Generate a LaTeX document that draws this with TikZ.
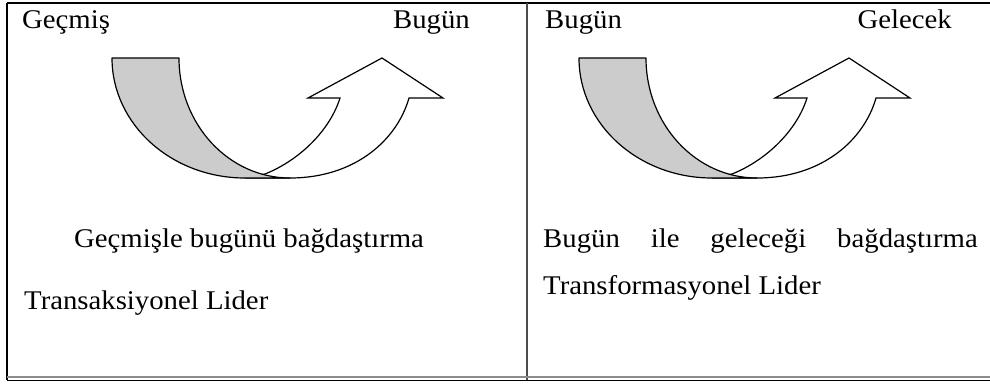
\documentclass[tikz,border=0pt]{standalone}
\usepackage{fontspec}
\setmainfont{Liberation Serif}
\newcommand\sxtext[1]{\scalebox{1.065}[1]{#1}}
\newcommand\drawUturn{%
  \draw[arrowshape] (245,178) -- (290,178) .. controls (355,178) and (397,140) .. (409,98)
     -- (443,98) -- (382,58) -- (308,98) -- (340,98)
     .. controls (330,130) and (300,160) .. (265,174) -- cycle;
  \draw[band] (112,58) -- (179,58) .. controls (179,124.3) and (228.7,178) .. (290,178)
     -- (245,178) .. controls (171.5,178) and (112,124.3) .. (112,58) -- cycle;
}
\begin{document}
\begin{tikzpicture}[x=1pt,y=-1pt,
  txt/.style={inner sep=0pt, anchor=base west, font=\fontsize{27}{32}\selectfont},
  band/.style={draw=black, line width=1.2pt, fill=black!20, line join=round},
  arrowshape/.style={draw=black, line width=1.2pt, fill=white, line join=miter},
  rule/.style={draw=black, line width=1.5pt}]
\useasboundingbox (0,0) rectangle (990,383);
% table frame
\draw[rule] (7,3) -- (990,3);
\draw[rule] (7,3) -- (7,380);
\draw[draw=black!70, line width=2pt] (527,3) -- (527,380);
\draw[draw=black!45, line width=1.2pt] (7,377) -- (990,377);
\draw[rule, line width=1.3pt] (7,380.5) -- (990,380.5);
% arrows
\drawUturn
\begin{scope}[xshift=467pt]
\drawUturn
\end{scope}
% texts
\node[txt] (past) at (22,28) {\sxtext{Geçmiş}};
\node[txt, anchor=base east] (todayA) at (470,28) {\sxtext{Bugün}};
\node[txt] (todayB) at (545,28) {\sxtext{Bugün}};
\node[txt, anchor=base east] (future) at (952,28) {\sxtext{Gelecek}};
\node[txt] (leftA) at (74,247) {\sxtext{Geçmişle bugünü bağdaştırma}};
\node[txt] (leftB) at (24,309) {\sxtext{Transaksiyonel Lider}};
\node[txt] (rightA) at (543,247) {\sxtext{\hbox to 408pt{Bugün\hfill ile\hfill geleceği\hfill bağdaştırma}}};
\node[txt] (rightB) at (543,294) {\sxtext{Transformasyonel Lider}};
\end{tikzpicture}
\end{document}
